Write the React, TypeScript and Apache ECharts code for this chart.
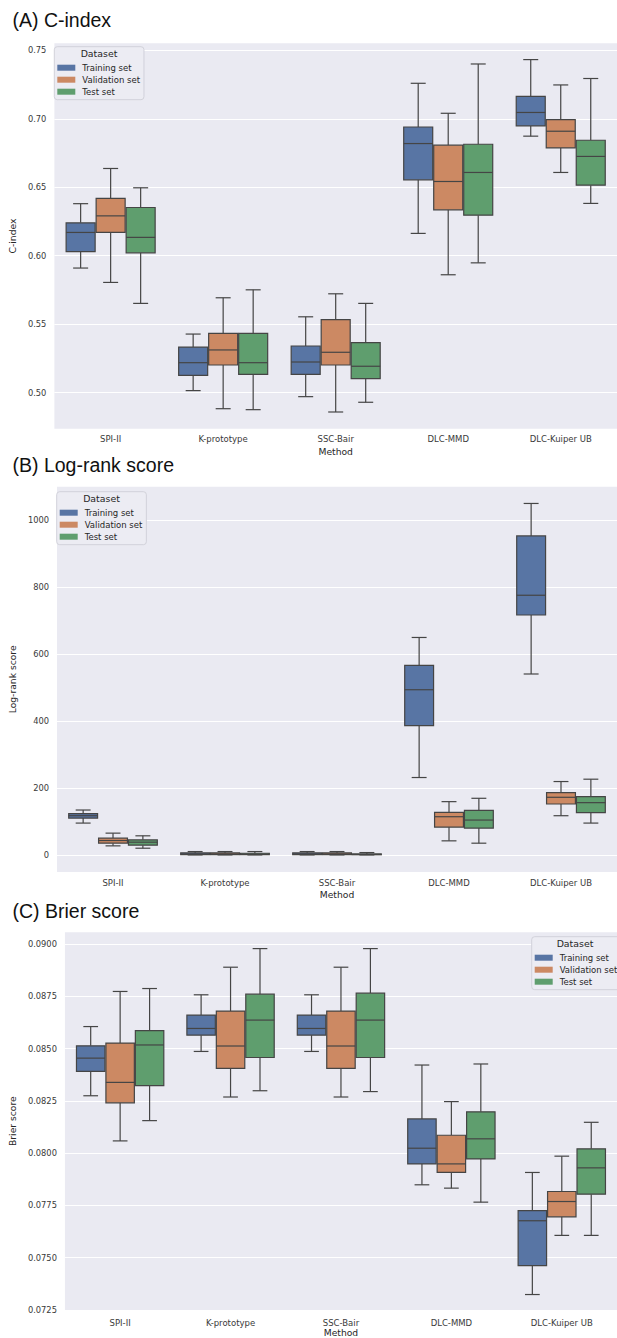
import React, { useEffect, useRef } from "react";
import * as echarts from "echarts";

const categories = ["SPI-II", "K-prototype", "SSC-Bair", "DLC-MMD", "DLC-Kuiper UB"];
const datasets = ["Training set", "Validation set", "Test set"];
const colors = ["#5875a4", "#cc8963", "#5f9e6e"];

// [min, Q1, median, Q3, max]
const cIndexTrain = [
  [0.591, 0.603, 0.617, 0.624, 0.638],
  [0.5015, 0.5127, 0.5219, 0.5333, 0.5428],
  [0.4971, 0.5134, 0.5224, 0.5341, 0.5554],
  [0.6163, 0.6554, 0.6819, 0.694, 0.7259],
  [0.6873, 0.6948, 0.7046, 0.7164, 0.7432],
];
const cIndexVal = [
  [0.5805, 0.617, 0.6291, 0.6418, 0.6637],
  [0.4883, 0.5202, 0.5312, 0.5433, 0.5693],
  [0.4859, 0.5202, 0.5295, 0.5533, 0.5722],
  [0.5861, 0.6335, 0.6542, 0.6807, 0.704],
  [0.6608, 0.6787, 0.6909, 0.6994, 0.7247],
];
const cIndexTest = [
  [0.5652, 0.6021, 0.6134, 0.6352, 0.6496],
  [0.4876, 0.5134, 0.5219, 0.5433, 0.5751],
  [0.493, 0.5102, 0.5193, 0.5365, 0.5652],
  [0.5948, 0.6296, 0.6608, 0.6814, 0.74],
  [0.6382, 0.6515, 0.6725, 0.6843, 0.7294],
];

const logRankTrain = [
  [95, 110, 117, 123, 134],
  [0, 1, 3, 6, 10],
  [0, 1, 3, 6, 10],
  [231, 386, 493, 566, 649],
  [540, 716, 775, 952, 1049],
];
const logRankVal = [
  [27, 35, 43, 50, 65],
  [0, 1, 3, 6, 10],
  [0, 1, 3, 6, 10],
  [42, 83, 114, 127, 159],
  [117, 152, 172, 186, 219],
];
const logRankTest = [
  [20, 29, 38, 45, 57],
  [0, 1, 2, 5, 10],
  [0, 0.5, 1.5, 3, 7],
  [35, 80, 104, 133, 169],
  [95, 126, 156, 174, 226],
];

const brierTrain = [
  [0.08275, 0.08392, 0.08455, 0.08514, 0.08606],
  [0.08487, 0.08565, 0.08597, 0.08661, 0.08758],
  [0.08487, 0.08565, 0.08597, 0.08661, 0.08758],
  [0.07849, 0.07949, 0.08024, 0.08164, 0.08422],
  [0.07324, 0.07462, 0.07677, 0.07725, 0.07908],
];
const brierVal = [
  [0.08059, 0.08241, 0.08339, 0.08527, 0.08774],
  [0.08269, 0.08406, 0.08513, 0.0868, 0.0889],
  [0.08269, 0.08406, 0.08513, 0.0868, 0.0889],
  [0.07833, 0.07908, 0.07949, 0.08086, 0.08247],
  [0.07607, 0.07696, 0.07769, 0.07817, 0.07986],
];
const brierTest = [
  [0.08156, 0.08323, 0.08518, 0.08587, 0.08788],
  [0.08299, 0.08458, 0.08637, 0.08761, 0.08979],
  [0.08295, 0.08458, 0.08637, 0.08766, 0.08979],
  [0.07766, 0.07973, 0.08069, 0.08198, 0.08427],
  [0.07607, 0.07804, 0.0793, 0.08021, 0.08148],
];

const panelTitles = ["(A) C-index", "(B) Log-rank score", "(C) Brier score"];
const yNames = ["C-index", "Log-rank score", "Brier score"];
const panelData = [
  [cIndexTrain, cIndexVal, cIndexTest],
  [logRankTrain, logRankVal, logRankTest],
  [brierTrain, brierVal, brierTest],
];

const EDGE = "#454545";
const FONT = "'DejaVu Sans', sans-serif";

const grids = [
  { left: 50, top: 43.3, width: 575.5, height: 385.4 },
  { left: 52.5, top: 486.7, width: 572, height: 385.3 },
  { left: 60, top: 932.3, width: 567, height: 378.4 },
];

const onStep = (v: number, step: number) => Math.abs(v / step - Math.round(v / step)) < 1e-6;

const yAxes = [
  {
    min: 0.4737, max: 0.7551, splitNumber: 5,
    fmt: (v: number) => (onStep(v, 0.05) ? v.toFixed(2) : ""),
    nameGap: 33,
  },
  {
    min: -51, max: 1099, splitNumber: 5,
    fmt: (v: number) => (onStep(v, 200) ? String(Math.round(v)) : ""),
    nameGap: 35.5,
  },
  {
    min: 0.0725, max: 0.09057, interval: 0.0025,
    fmt: (v: number) => (onStep(v, 0.0025) ? v.toFixed(4) : ""),
    nameGap: 42.5,
  },
];

const legendPos = [
  { left: 54.3, top: 46.7 },
  { left: 56.7, top: 491.7 },
  { left: 531.7, top: 936.7 },
];
const legendTitlePos = [
  { x: 99, y: 53.5 },
  { x: 101.5, y: 498.5 },
  { x: 575, y: 943.5 },
];
const titleY = [20, 464.5, 910.5];
const xLabelMargin = [6, 6, 8];

const makeRender = (k: number, color: string) => (params: any, api: any) => {
  const cat = api.value(0);
  const vals = [1, 2, 3, 4, 5].map((i) => api.value(i));
  const band = api.size([1, 0])[0];
  const bw = (band * 0.8) / 3;
  const cx = api.coord([cat, vals[2]])[0] + (k - 1) * bw;
  const ys = vals.map((v: number) => api.coord([cat, v])[1]);
  const [yLo, yQ1, yMed, yQ3, yHi] = ys;
  const half = bw / 2 - 0.5;
  const capHalf = bw / 4;
  const ls = { stroke: EDGE, lineWidth: 1.2, fill: "none" };
  return {
    type: "group",
    children: [
      { type: "line", shape: { x1: cx, y1: yQ1, x2: cx, y2: yLo }, style: ls },
      { type: "line", shape: { x1: cx, y1: yQ3, x2: cx, y2: yHi }, style: ls },
      { type: "line", shape: { x1: cx - capHalf, y1: yLo, x2: cx + capHalf, y2: yLo }, style: ls },
      { type: "line", shape: { x1: cx - capHalf, y1: yHi, x2: cx + capHalf, y2: yHi }, style: ls },
      {
        type: "rect",
        shape: { x: cx - half, y: yQ3, width: 2 * half, height: Math.max(yQ1 - yQ3, 0.5) },
        style: { fill: color, stroke: EDGE, lineWidth: 1.2 },
      },
      { type: "line", shape: { x1: cx - half, y1: yMed, x2: cx + half, y2: yMed }, style: ls },
    ],
  };
};

function buildOption() {
  const series: any[] = [];
  panelData.forEach((sets, p) => {
    sets.forEach((vals, k) => {
      series.push({
        type: "custom",
        name: datasets[k],
        xAxisIndex: p,
        yAxisIndex: p,
        itemStyle: { color: colors[k] },
        encode: { x: 0, y: [1, 2, 3, 4, 5] },
        data: vals.map((v, i) => [i, ...v]),
        renderItem: makeRender(k, colors[k]),
        clip: false,
      });
    });
  });

  const graphic: any[] = [];
  panelTitles.forEach((t, p) => {
    graphic.push({
      type: "text",
      x: 12.5,
      y: titleY[p],
      z: 100,
      style: {
        text: t,
        fontSize: 19.5,
        fontFamily: "'Liberation Sans', Arial, sans-serif",
        fontWeight: "normal",
        fill: "#111",
        align: "left",
        verticalAlign: "middle",
        textAlign: "left",
        textVerticalAlign: "middle",
      },
    });
    graphic.push({
      type: "text",
      x: legendTitlePos[p].x,
      y: legendTitlePos[p].y,
      z: 100,
      style: {
        text: "Dataset",
        fontSize: 9.4,
        fontFamily: FONT,
        fontWeight: "normal",
        fill: "#262626",
        align: "center",
        verticalAlign: "middle",
        textAlign: "center",
        textVerticalAlign: "middle",
      },
    });
  });

  return {
    animation: false,
    backgroundColor: "#ffffff",
    grid: grids.map((g) => ({
      ...g,
      show: true,
      backgroundColor: "#eaeaf2",
      borderWidth: 0,
      containLabel: false,
    })),
    xAxis: grids.map((_, p) => ({
      type: "category",
      gridIndex: p,
      data: categories,
      boundaryGap: true,
      axisLine: { show: false },
      axisTick: { show: false },
      splitLine: { show: false },
      axisLabel: { color: "#3a3a3a", fontSize: 8.5, fontFamily: FONT, margin: xLabelMargin[p], interval: 0 },
      name: "Method",
      nameLocation: "middle",
      nameGap: 18,
      nameTextStyle: { color: "#262626", fontSize: 9.2, fontFamily: FONT },
    })),
    yAxis: yAxes.map((y, p) => ({
      type: "value",
      gridIndex: p,
      min: y.min,
      max: y.max,
      ...(y.interval ? { interval: y.interval } : { splitNumber: y.splitNumber }),
      scale: true,
      axisLine: { show: false },
      axisTick: { show: false },
      splitLine: {
        show: true,
        showMinLine: false,
        showMaxLine: false,
        lineStyle: { color: "#ffffff", width: 1.1 },
      },
      axisLabel: { color: "#3a3a3a", fontSize: 8.3, fontFamily: FONT, margin: 8, formatter: y.fmt },
      name: yNames[p],
      nameLocation: "middle",
      nameGap: y.nameGap,
      nameTextStyle: { color: "#262626", fontSize: 9.2, fontFamily: FONT },
    })),
    legend: legendPos.map((lp) => ({
      left: lp.left,
      top: lp.top,
      orient: "vertical",
      data: datasets,
      icon: "rect",
      itemWidth: 18,
      itemHeight: 6,
      itemGap: 0,
      padding: [15, 4, 2, 3],
      backgroundColor: "#ececf3",
      borderColor: "#d2d2da",
      borderWidth: 1,
      borderRadius: 3,
      selectedMode: false,
      textStyle: { fontSize: 8.5, fontFamily: FONT, color: "#262626", lineHeight: 12, padding: [0, 0, 0, 2] },
    })),
    graphic,
    series,
  };
}

export default function App() {
  const ref = useRef<HTMLDivElement>(null);
  useEffect(() => {
    const chart = echarts.init(ref.current!, undefined, { renderer: "svg" });
    chart.setOption(buildOption() as any);
    return () => chart.dispose();
  }, []);
  return (
    <div
      ref={ref}
      style={{
        position: "absolute",
        left: 0,
        top: 0,
        width: 617,
        height: 1338,
        background: "#ffffff",
        overflow: "hidden",
      }}
    />
  );
}
